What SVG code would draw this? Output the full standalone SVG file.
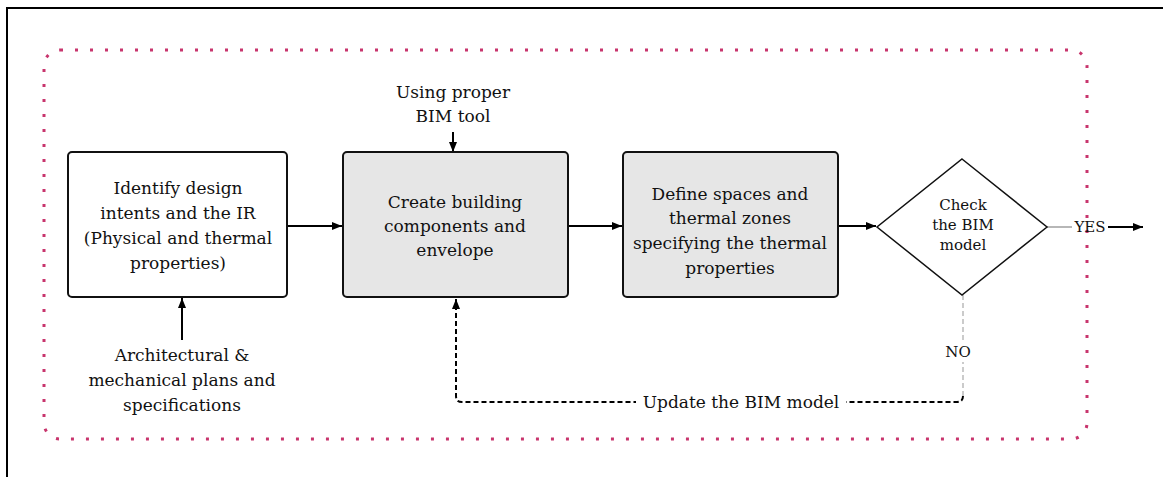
<svg xmlns="http://www.w3.org/2000/svg" width="1163" height="477" viewBox="0 0 1163 477">
<defs>
<marker id="ah" viewBox="0 0 10 10" refX="10" refY="5" markerWidth="10" markerHeight="10" markerUnits="userSpaceOnUse" orient="auto">
<path d="M0,1 L10,5 L0,9 Z" fill="#000"/>
</marker>
<style>
.t{font-family:"DejaVu Serif","Liberation Serif",serif;font-size:17px;fill:#111;text-anchor:middle;}
.s{font-family:"DejaVu Serif","Liberation Serif",serif;font-size:15px;fill:#111;text-anchor:middle;}
.box{stroke:#111;stroke-width:2;}
.ln{stroke:#000;stroke-width:2;fill:none;}
</style>
</defs>
<rect x="0" y="0" width="1163" height="477" fill="#fff"/>
<rect x="7" y="8" width="1170" height="480" fill="none" stroke="#000" stroke-width="2"/>
<rect x="44" y="50" width="1043" height="389" rx="16" ry="16" fill="none" stroke="#c8356d" stroke-width="3" stroke-dasharray="3 12"/>

<g id="connectors">
<line class="ln" x1="287" y1="226" x2="342" y2="226" marker-end="url(#ah)"/>
<line class="ln" x1="568" y1="226" x2="622" y2="226" marker-end="url(#ah)"/>
<line class="ln" x1="838" y1="226" x2="876" y2="226" marker-end="url(#ah)"/>
<line class="ln" x1="453" y1="132" x2="453" y2="152" marker-end="url(#ah)"/>
<line class="ln" x1="182" y1="340" x2="182" y2="298" marker-end="url(#ah)"/>
<line x1="1047" y1="227" x2="1072" y2="227" stroke="#888" stroke-width="1.2"/>
<line class="ln" x1="1108" y1="227" x2="1143" y2="227" marker-end="url(#ah)"/>
<path d="M963,295 L963,396" fill="none" stroke="#bbb" stroke-width="1.5" stroke-dasharray="5 3"/>
<path d="M963,396 Q963,402 957,402 L462,402 Q456,402 456,396 L456,299" fill="none" stroke="#000" stroke-width="2" stroke-dasharray="5 3" marker-end="url(#ah)"/>
<rect x="636" y="392" width="210" height="22" fill="#fff"/>
<text class="t" x="741" y="408">Update the BIM model</text>
<rect x="944" y="340" width="28" height="22" fill="#fff"/>
<text class="s" x="958" y="357">NO</text>
<text class="s" x="1090" y="232">YES</text>
</g>

<g id="n-identify">
<rect class="box" x="68" y="152" width="219" height="145" rx="4" fill="#fff"/>
<text class="t" x="178" y="194">Identify design</text>
<text class="t" x="178" y="219">intents and the IR</text>
<text class="t" x="178" y="244">(Physical and thermal</text>
<text class="t" x="178" y="269">properties)</text>
</g>

<g id="n-create">
<rect class="box" x="343" y="152" width="225" height="145" rx="4" fill="#e6e6e6"/>
<text class="t" x="455" y="208">Create building</text>
<text class="t" x="455" y="232">components and</text>
<text class="t" x="455" y="256">envelope</text>
</g>

<g id="n-define">
<rect class="box" x="623" y="152" width="215" height="145" rx="4" fill="#e6e6e6"/>
<text class="t" x="730" y="200">Define spaces and</text>
<text class="t" x="730" y="224">thermal zones</text>
<text class="t" x="730" y="249">specifying the thermal</text>
<text class="t" x="730" y="274">properties</text>
</g>

<g id="n-check">
<polygon points="962,159 1047,227 962,295 877,227" fill="#fff" stroke="#111" stroke-width="1.5"/>
<text class="s" x="963" y="210">Check</text>
<text class="s" x="963" y="230">the BIM</text>
<text class="s" x="963" y="250">model</text>
</g>

<g id="n-tool">
<text class="t" x="453" y="98">Using proper</text>
<text class="t" x="453" y="122">BIM tool</text>
</g>

<g id="n-plans">
<text class="t" x="182" y="361">Architectural &amp;</text>
<text class="t" x="182" y="386">mechanical plans and</text>
<text class="t" x="182" y="411">specifications</text>
</g>
</svg>
